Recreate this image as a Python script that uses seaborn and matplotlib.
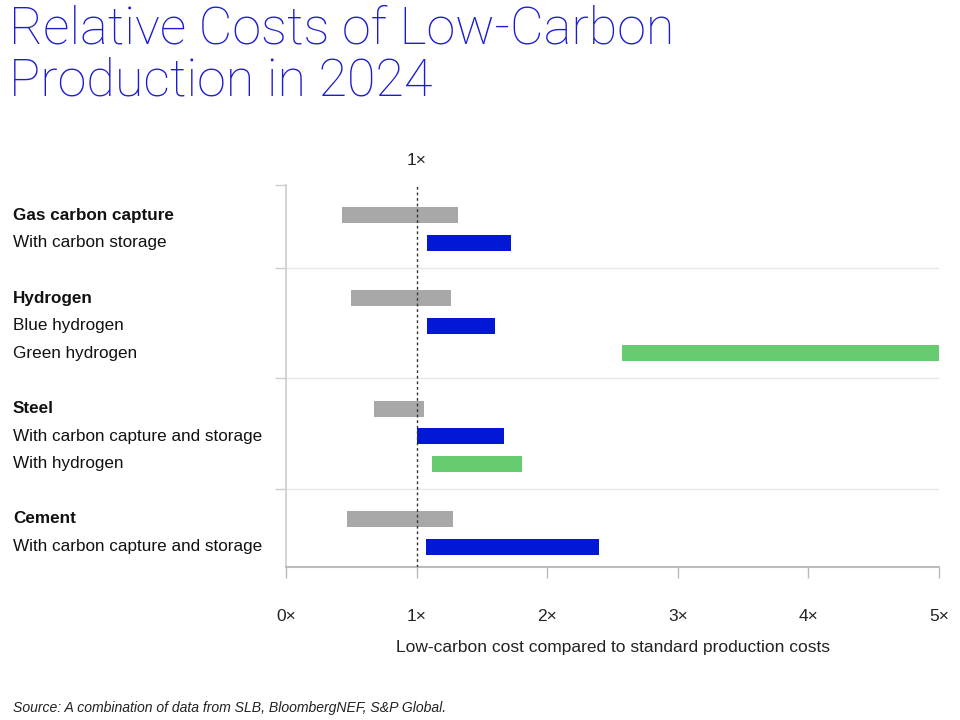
import numpy as np
import matplotlib
matplotlib.use("Agg")
import matplotlib.pyplot as plt
import matplotlib.transforms as mtransforms
import seaborn as sns

# -------------------------
# Data
# -------------------------
groups = ["Gas carbon capture", "Hydrogen", "Steel", "Cement"]
sub_labels = [
    ["With carbon storage"],
    ["Blue hydrogen", "Green hydrogen"],
    ["With carbon capture and storage", "With hydrogen"],
    ["With carbon capture and storage"],
]
# standard production cost range (grey bar on the group row)
std_low = [0.43, 0.50, 0.67, 0.47]
std_high = [1.32, 1.26, 1.06, 1.28]
# low-carbon cost range (one per sub row)
lc_low = [[1.08], [1.08, 2.57], [1.00, 1.12], [1.07]]
lc_high = [[1.72], [1.60, 5.00], [1.67, 1.81], [2.40]]
lc_kind = [["ccs"], ["ccs", "h2"], ["ccs", "h2"], ["ccs"]]

x_ticks = [0, 1, 2, 3, 4, 5]
x_tick_labels = ["0\u00d7", "1\u00d7", "2\u00d7", "3\u00d7", "4\u00d7", "5\u00d7"]

GREY = "#a8a8a8"
BLUE = "#0318d6"
GREEN = "#66cc6f"
TITLE_BLUE = "#1c1cd4"
kind_color = {"ccs": BLUE, "h2": GREEN}

sns.set_theme(style="white")
plt.rcParams["font.family"] = ["Liberation Sans", "DejaVu Sans"]

fig = plt.figure(figsize=(9.6, 7.2), dpi=100)
ax = fig.add_axes([286 / 960, 1 - 567 / 720, (939 - 286) / 960, (567 - 185) / 720])

# build row layout: group row, then sub rows, then a separator slot
ROW_SHIFT = 0.1
rows = []        # (y, label, bold)
separators = [0]
y = 1
for g, subs, lo, hi, sl, sh, kinds in zip(groups, sub_labels, std_low, std_high,
                                           lc_low, lc_high, lc_kind):
    rows.append((y + ROW_SHIFT, g, True))
    ax.barh(y + ROW_SHIFT, hi - lo, left=lo, height=0.58, color=GREY, linewidth=0)
    y += 1
    for lab, a, b, k in zip(subs, sl, sh, kinds):
        rows.append((y + ROW_SHIFT, lab, False))
        ax.barh(y + ROW_SHIFT, b - a, left=a, height=0.58, color=kind_color[k],
                linewidth=0)
        y += 1
    separators.append(y)
    y += 1
separators = separators[:-1]

ax.set_xlim(0, 5)
ax.set_ylim(13.84, 0)

# separators
for s in separators[1:]:
    ax.axhline(s, color="#e8e8e8", lw=1, zorder=0)
ax.set_yticks(separators)
ax.set_yticklabels([])
ax.tick_params(axis="y", left=True, length=8, width=1, color="#cccccc")

# x axis
ax.set_xticks(x_ticks)
ax.set_xticklabels(x_tick_labels, fontsize=12.5, color="#222222")
ax.tick_params(axis="x", bottom=True, length=8, width=1, color="#bbbbbb", pad=22)
ax.set_xlabel("Low-carbon cost compared to standard production costs",
              fontsize=12.5, color="#222222", labelpad=12)

for side in ["top", "right"]:
    ax.spines[side].set_visible(False)
ax.spines["left"].set_color("#cccccc")
ax.spines["bottom"].set_color("#bbbbbb")
ax.spines["left"].set_linewidth(1.2)
ax.spines["bottom"].set_linewidth(1.5)

# 1x reference line
ax.axvline(1, color="#333333", lw=1, linestyle=(0, (2, 2)), zorder=3)
ax.text(1, -0.9, "1\u00d7", ha="center", va="center", fontsize=12.5, color="#222222")

# row labels on the left
trans = mtransforms.blended_transform_factory(fig.transFigure, ax.transData)
for yy, lab, bold in rows:
    ax.text(13 / 960, yy, lab, transform=trans, ha="left", va="center",
            fontsize=12.3, fontweight="bold" if bold else "normal",
            color="#111111", clip_on=False)

# title and source
fig.text(9 / 960, 1 - 4 / 720, "Relative Costs of Low-Carbon\nProduction in 2024",
         ha="left", va="top", fontsize=37.5, color=TITLE_BLUE,
         family=["Roboto", "DejaVu Sans"], fontweight="light", linespacing=1.07)
fig.text(13 / 960, 1 - 708 / 720,
         "Source: A combination of data from SLB, BloombergNEF, S&P Global.",
         ha="left", va="center", fontsize=10.05, style="italic", color="#222222")

fig.savefig("out.png", dpi=100)
